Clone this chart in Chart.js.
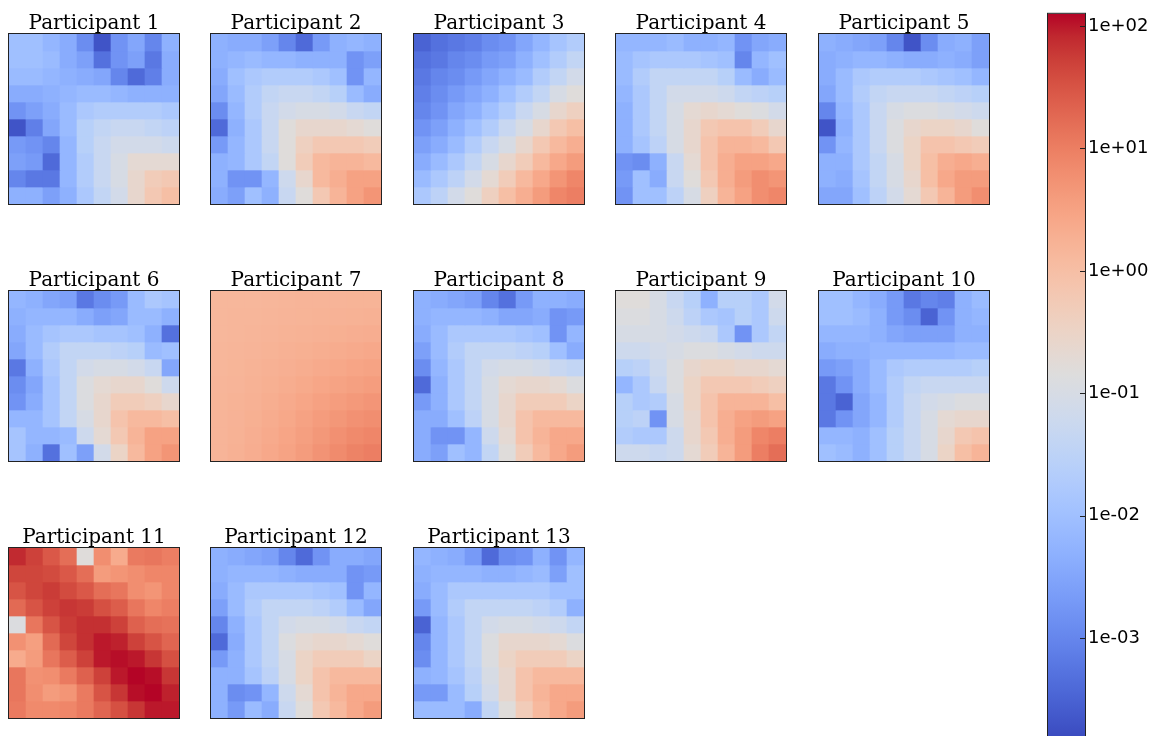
<!DOCTYPE html>
<html lang="en">
<head>
<meta charset="UTF-8" />
<title>Participant heatmaps</title>
<script src="https://cdn.jsdelivr.net/npm/chart.js"></script>
<style>
    body {
        margin: 0;
        background: #fff;
        width: 1154px;
        height: 736px;
        overflow: hidden;
        position: relative;
    }
    canvas {
        position: absolute;
    }
</style>
</head>
<body>
<canvas id="cbar" width="107" height="760" style="left:1047px;top:0px"></canvas>
<script>
    // values are stored as log10 of each cell (row by row, top to bottom)
    const titles = ['Participant 1', 'Participant 2', 'Participant 3', 'Participant 4', 'Participant 5',
        'Participant 6', 'Participant 7', 'Participant 8', 'Participant 9', 'Participant 10',
        'Participant 11', 'Participant 12', 'Participant 13'];

    const p01 = [
        [-2.0, -2.0, -2.2, -2.4, -2.9, -3.7, -2.8, -2.5, -3.0, -2.3],
        [-2.0, -2.0, -2.1, -2.4, -2.6, -3.3, -2.8, -2.6, -3.2, -2.4],
        [-2.1, -2.1, -2.2, -2.3, -2.4, -2.5, -3.0, -3.4, -3.1, -2.4],
        [-2.4, -2.4, -2.3, -2.2, -2.1, -2.1, -2.2, -2.3, -2.3, -2.3],
        [-2.8, -2.6, -2.4, -2.1, -1.8, -1.7, -1.7, -1.7, -1.7, -1.8],
        [-3.7, -3.1, -2.5, -2.1, -1.6, -1.4, -1.3, -1.3, -1.4, -1.5],
        [-2.7, -2.8, -3.0, -2.2, -1.6, -1.3, -1.1, -1.1, -1.1, -1.2],
        [-2.6, -2.7, -3.4, -2.2, -1.7, -1.3, -1.0, -0.7, -0.7, -0.7],
        [-3.0, -3.2, -3.2, -2.2, -1.7, -1.3, -1.0, -0.6, -0.3, -0.2],
        [-2.3, -2.3, -2.6, -2.3, -1.8, -1.4, -1.1, -0.6, -0.2, 0.0]
    ];
    const p02 = [
        [-2.3, -2.4, -2.4, -2.6, -3.0, -3.4, -2.7, -2.3, -2.2, -2.3],
        [-2.3, -2.2, -2.1, -2.2, -2.2, -2.3, -2.3, -2.3, -2.8, -2.6],
        [-2.4, -2.0, -1.8, -1.7, -1.7, -1.7, -1.8, -2.0, -2.8, -2.2],
        [-2.5, -2.1, -1.7, -1.4, -1.3, -1.3, -1.4, -1.6, -2.1, -2.4],
        [-2.9, -2.2, -1.7, -1.3, -1.1, -1.0, -1.0, -1.1, -1.3, -1.4],
        [-3.4, -2.3, -1.8, -1.3, -0.8, -0.6, -0.6, -0.6, -0.7, -0.8],
        [-2.7, -2.2, -1.8, -1.3, -0.8, -0.4, -0.2, -0.2, -0.2, -0.3],
        [-2.3, -2.2, -1.8, -1.4, -0.8, -0.3, 0.1, 0.2, 0.2, 0.1],
        [-2.3, -2.8, -2.8, -2.2, -1.2, -0.6, 0.1, 0.3, 0.5, 0.5],
        [-2.4, -2.6, -2.0, -2.3, -1.3, -0.8, -0.2, 0.2, 0.5, 0.7]
    ];
    const p03 = [
        [-3.5, -3.3, -3.2, -3.1, -2.9, -2.8, -2.5, -2.2, -1.9, -1.7],
        [-3.3, -3.2, -3.0, -2.9, -2.7, -2.6, -2.3, -2.0, -1.7, -1.4],
        [-3.2, -3.0, -2.9, -2.7, -2.5, -2.3, -2.1, -1.7, -1.4, -1.1],
        [-3.1, -2.9, -2.7, -2.5, -2.3, -2.0, -1.7, -1.4, -1.0, -0.8],
        [-3.0, -2.8, -2.5, -2.3, -2.0, -1.7, -1.3, -1.0, -0.6, -0.4],
        [-2.8, -2.6, -2.3, -2.0, -1.7, -1.3, -1.0, -0.6, -0.2, 0.0],
        [-2.6, -2.4, -2.1, -1.7, -1.3, -1.0, -0.6, -0.2, 0.1, 0.3],
        [-2.4, -2.1, -1.8, -1.4, -1.0, -0.6, -0.3, 0.1, 0.4, 0.6],
        [-2.1, -1.8, -1.5, -1.1, -0.7, -0.3, 0.1, 0.4, 0.7, 0.9],
        [-1.8, -1.5, -1.1, -0.8, -0.4, 0.0, 0.3, 0.6, 0.9, 1.0]
    ];
    const p04 = [
        [-2.2, -2.2, -2.2, -2.1, -2.3, -2.3, -2.2, -2.8, -2.5, -2.4],
        [-2.1, -1.9, -1.8, -1.8, -1.8, -1.9, -2.0, -3.0, -2.2, -2.0],
        [-2.1, -1.7, -1.4, -1.4, -1.4, -1.4, -1.6, -2.1, -2.4, -2.1],
        [-2.2, -1.8, -1.4, -1.1, -1.1, -1.1, -1.2, -1.4, -1.5, -1.6],
        [-2.3, -1.8, -1.4, -1.0, -0.7, -0.6, -0.7, -0.8, -0.9, -1.1],
        [-2.3, -1.8, -1.4, -1.0, -0.6, -0.2, -0.1, -0.1, -0.3, -0.6],
        [-2.3, -1.9, -1.5, -1.0, -0.6, -0.1, 0.2, 0.2, 0.1, -0.2],
        [-2.8, -2.9, -2.3, -1.3, -0.7, -0.1, 0.3, 0.5, 0.5, 0.4],
        [-2.7, -2.0, -2.4, -1.3, -0.8, -0.2, 0.3, 0.6, 0.8, 0.7],
        [-2.8, -2.0, -2.0, -1.5, -1.0, -0.4, 0.2, 0.5, 0.8, 0.9]
    ];
    const p05 = [
        [-2.3, -2.4, -2.5, -2.6, -3.0, -3.7, -2.9, -2.4, -2.3, -2.6],
        [-2.4, -2.3, -2.2, -2.2, -2.3, -2.4, -2.4, -2.3, -2.4, -2.6],
        [-2.4, -2.1, -1.8, -1.7, -1.7, -1.7, -1.8, -1.9, -2.0, -2.2],
        [-2.5, -2.1, -1.7, -1.4, -1.3, -1.3, -1.3, -1.4, -1.5, -1.6],
        [-3.0, -2.2, -1.8, -1.3, -1.0, -0.9, -0.9, -1.0, -1.1, -1.2],
        [-3.7, -2.3, -1.8, -1.3, -0.9, -0.6, -0.5, -0.5, -0.6, -0.8],
        [-2.8, -2.2, -1.8, -1.3, -0.9, -0.5, -0.1, -0.1, -0.2, -0.3],
        [-2.3, -2.3, -1.8, -1.4, -1.0, -0.5, 0.0, 0.3, 0.4, 0.3],
        [-2.3, -2.4, -1.9, -1.4, -1.0, -0.6, 0.0, 0.4, 0.6, 0.6],
        [-2.5, -2.5, -2.0, -1.5, -1.1, -0.7, -0.2, 0.2, 0.6, 0.8]
    ];
    const p06 = [
        [-2.2, -2.3, -2.5, -2.6, -3.2, -2.9, -2.7, -2.1, -1.8, -1.9],
        [-2.3, -2.2, -2.2, -2.2, -2.4, -2.6, -2.5, -2.1, -2.1, -2.3],
        [-2.4, -2.1, -1.9, -1.8, -1.8, -1.9, -1.9, -2.0, -2.3, -3.3],
        [-2.5, -2.1, -1.7, -1.4, -1.4, -1.4, -1.5, -1.6, -2.1, -2.0],
        [-3.2, -2.3, -1.8, -1.4, -1.1, -1.0, -1.0, -1.1, -1.3, -2.5],
        [-2.9, -2.5, -1.9, -1.4, -0.9, -0.7, -0.6, -0.6, -0.8, -1.2],
        [-2.8, -2.4, -1.9, -1.4, -0.9, -0.6, -0.3, -0.3, -0.4, -0.6],
        [-2.2, -2.2, -1.9, -1.4, -1.0, -0.6, -0.1, 0.1, 0.1, 0.0],
        [-1.9, -2.2, -2.2, -2.1, -1.2, -0.7, -0.2, 0.2, 0.5, 0.5],
        [-1.9, -2.3, -3.3, -2.0, -2.6, -1.1, -0.5, 0.1, 0.5, 0.7]
    ];
    const p07 = [
        [0.15, 0.15, 0.15, 0.17, 0.18, 0.20, 0.20, 0.20, 0.21, 0.21],
        [0.15, 0.16, 0.17, 0.18, 0.20, 0.21, 0.22, 0.23, 0.24, 0.25],
        [0.15, 0.17, 0.18, 0.20, 0.22, 0.24, 0.26, 0.28, 0.30, 0.32],
        [0.16, 0.18, 0.20, 0.22, 0.25, 0.28, 0.31, 0.34, 0.37, 0.40],
        [0.17, 0.19, 0.22, 0.25, 0.29, 0.33, 0.37, 0.41, 0.45, 0.48],
        [0.18, 0.20, 0.24, 0.28, 0.33, 0.38, 0.44, 0.49, 0.54, 0.58],
        [0.19, 0.22, 0.26, 0.31, 0.37, 0.44, 0.51, 0.58, 0.64, 0.69],
        [0.20, 0.23, 0.28, 0.34, 0.41, 0.50, 0.59, 0.67, 0.75, 0.80],
        [0.20, 0.24, 0.30, 0.37, 0.45, 0.55, 0.66, 0.76, 0.85, 0.90],
        [0.20, 0.25, 0.32, 0.40, 0.49, 0.60, 0.72, 0.84, 0.94, 1.00]
    ];
    const p08 = [
        [-2.3, -2.4, -2.5, -2.6, -3.0, -3.3, -2.7, -2.3, -2.3, -2.4],
        [-2.3, -2.2, -2.2, -2.2, -2.3, -2.5, -2.5, -2.4, -2.8, -2.7],
        [-2.4, -2.1, -1.8, -1.8, -1.8, -1.8, -1.9, -2.0, -2.8, -2.2],
        [-2.6, -2.1, -1.7, -1.4, -1.4, -1.4, -1.5, -1.6, -2.0, -2.4],
        [-2.9, -2.2, -1.8, -1.4, -1.1, -1.0, -1.0, -1.1, -1.3, -1.4],
        [-3.4, -2.3, -1.8, -1.4, -1.0, -0.7, -0.6, -0.6, -0.7, -0.9],
        [-2.7, -2.3, -1.8, -1.4, -1.0, -0.6, -0.3, -0.3, -0.3, -0.5],
        [-2.4, -2.4, -2.0, -1.5, -1.0, -0.6, -0.1, 0.1, 0.1, 0.1],
        [-2.4, -2.8, -2.8, -2.2, -1.2, -0.7, -0.1, 0.2, 0.4, 0.4],
        [-2.4, -2.6, -2.0, -2.2, -1.4, -0.8, -0.3, 0.1, 0.4, 0.6]
    ];
    const p09 = [
        [-0.8, -0.8, -1.0, -1.3, -1.6, -2.3, -1.6, -1.6, -1.8, -1.1],
        [-0.9, -0.9, -1.0, -1.2, -1.5, -1.8, -1.9, -1.6, -1.8, -1.2],
        [-1.0, -1.0, -1.0, -1.1, -1.2, -1.3, -1.8, -2.8, -1.8, -1.4],
        [-1.2, -1.2, -1.1, -1.0, -0.9, -0.9, -1.0, -1.1, -1.2, -1.2],
        [-1.6, -1.5, -1.2, -0.9, -0.6, -0.5, -0.5, -0.6, -0.6, -0.7],
        [-2.2, -1.8, -1.3, -0.9, -0.5, -0.2, -0.2, -0.2, -0.3, -0.4],
        [-1.6, -1.8, -1.7, -1.0, -0.5, -0.1, 0.2, 0.2, 0.2, 0.0],
        [-1.6, -1.5, -2.8, -1.0, -0.6, -0.1, 0.3, 0.5, 0.6, 0.5],
        [-1.7, -1.8, -1.8, -1.2, -0.6, -0.2, 0.3, 0.6, 0.9, 1.0],
        [-1.2, -1.2, -1.3, -1.2, -0.7, -0.3, 0.2, 0.6, 1.0, 1.2]
    ];
    const p10 = [
        [-2.0, -2.0, -2.2, -2.4, -2.7, -3.2, -3.0, -3.1, -2.3, -2.1],
        [-2.0, -2.0, -2.1, -2.3, -2.7, -2.9, -3.5, -2.8, -2.3, -2.2],
        [-2.2, -2.2, -2.2, -2.3, -2.5, -2.6, -2.6, -2.6, -2.3, -2.3],
        [-2.4, -2.3, -2.3, -2.2, -2.2, -2.2, -2.2, -2.2, -2.1, -2.1],
        [-2.7, -2.6, -2.4, -2.1, -1.8, -1.7, -1.7, -1.7, -1.7, -1.6],
        [-3.2, -2.8, -2.4, -2.1, -1.7, -1.4, -1.3, -1.3, -1.3, -1.3],
        [-3.2, -3.5, -2.5, -2.2, -1.7, -1.3, -1.1, -1.0, -0.9, -0.9],
        [-3.2, -2.8, -2.5, -2.2, -1.7, -1.3, -1.0, -0.7, -0.6, -0.6],
        [-2.2, -2.2, -2.3, -2.0, -1.6, -1.3, -1.0, -0.6, -0.2, -0.1],
        [-2.0, -2.1, -2.3, -2.0, -1.6, -1.3, -1.0, -0.5, 0.0, 0.2]
    ];
    const p11 = [
        [1.90, 1.70, 1.45, 1.20, -0.80, 0.80, 0.35, 1.05, 1.10, 1.00],
        [1.65, 1.65, 1.60, 1.45, 1.20, 0.60, 0.70, 0.80, 0.90, 0.90],
        [1.50, 1.65, 1.75, 1.60, 1.45, 1.20, 1.10, 0.80, 0.70, 0.90],
        [1.25, 1.50, 1.70, 1.80, 1.75, 1.55, 1.40, 1.10, 0.90, 1.00],
        [-0.90, 1.10, 1.50, 1.75, 1.85, 1.85, 1.70, 1.35, 1.20, 1.15],
        [0.75, 0.55, 1.25, 1.65, 1.85, 2.00, 1.95, 1.70, 1.50, 1.30],
        [0.35, 0.60, 1.10, 1.40, 1.70, 2.00, 2.05, 2.00, 1.80, 1.55],
        [1.10, 0.75, 0.80, 1.05, 1.35, 1.70, 2.00, 2.10, 2.05, 1.80],
        [1.10, 0.80, 0.60, 0.70, 1.05, 1.50, 1.80, 2.05, 2.10, 1.95],
        [1.05, 0.85, 0.85, 0.90, 1.05, 1.30, 1.55, 1.80, 2.00, 2.00]
    ];
    const p12 = [
        [-2.3, -2.4, -2.5, -2.6, -3.0, -3.4, -2.8, -2.4, -2.4, -2.5],
        [-2.3, -2.2, -2.2, -2.2, -2.3, -2.4, -2.4, -2.4, -2.8, -2.7],
        [-2.4, -2.1, -1.8, -1.8, -1.8, -1.8, -1.9, -2.0, -2.8, -2.2],
        [-2.6, -2.1, -1.7, -1.4, -1.4, -1.4, -1.5, -1.7, -2.1, -2.5],
        [-3.0, -2.3, -1.8, -1.4, -1.1, -1.0, -1.0, -1.1, -1.3, -1.4],
        [-3.4, -2.4, -1.8, -1.4, -0.9, -0.7, -0.6, -0.6, -0.7, -0.8],
        [-2.7, -2.3, -1.8, -1.4, -1.0, -0.5, -0.3, -0.3, -0.3, -0.5],
        [-2.3, -2.3, -1.9, -1.5, -1.0, -0.5, -0.1, 0.1, 0.1, 0.1],
        [-2.3, -2.9, -2.8, -2.2, -1.2, -0.7, -0.1, 0.2, 0.4, 0.4],
        [-2.3, -2.7, -2.1, -2.4, -1.3, -0.8, -0.2, 0.1, 0.4, 0.6]
    ];
    const p13 = [
        [-2.2, -2.3, -2.4, -2.7, -3.4, -2.9, -2.8, -2.3, -2.8, -2.2],
        [-2.3, -2.2, -2.2, -2.2, -2.3, -2.3, -2.2, -2.1, -2.6, -2.0],
        [-2.4, -2.1, -1.8, -1.8, -1.8, -1.8, -1.8, -1.8, -2.0, -2.0],
        [-2.7, -2.1, -1.7, -1.4, -1.4, -1.4, -1.4, -1.5, -1.7, -2.3],
        [-3.5, -2.2, -1.8, -1.4, -1.1, -1.0, -1.0, -1.1, -1.2, -1.4],
        [-3.0, -2.2, -1.8, -1.4, -0.9, -0.6, -0.6, -0.6, -0.7, -0.9],
        [-2.9, -2.2, -1.8, -1.4, -0.9, -0.5, -0.3, -0.3, -0.3, -0.5],
        [-2.3, -2.2, -1.9, -1.5, -1.0, -0.6, -0.1, 0.1, 0.1, 0.1],
        [-2.7, -2.7, -2.1, -1.6, -1.1, -0.6, -0.1, 0.2, 0.4, 0.4],
        [-2.1, -2.1, -2.1, -2.4, -1.4, -0.8, -0.3, 0.1, 0.4, 0.6]
    ];
    const grids = [p01, p02, p03, p04, p05, p06, p07, p08, p09, p10, p11, p12, p13];

    // colour norm limits (log10) and colourbar ticks
    const logMin = -3.8;
    const logMax = 2.1;
    const cbarTicks = [1e-3, 1e-2, 1e-1, 1, 10, 100];

    // matplotlib coolwarm, 33 samples
    const coolwarm = [
        [59, 76, 192], [68, 90, 204], [77, 104, 215], [87, 117, 225], [98, 130, 234],
        [108, 142, 241], [119, 154, 247], [130, 165, 251], [141, 176, 254], [152, 185, 255],
        [163, 194, 255], [174, 201, 253], [184, 208, 249], [194, 213, 244], [204, 217, 238],
        [213, 219, 230], [221, 221, 221], [229, 216, 209], [236, 211, 197], [241, 204, 185],
        [245, 196, 173], [247, 187, 160], [247, 177, 148], [247, 166, 135], [244, 154, 123],
        [241, 141, 111], [236, 127, 99], [229, 112, 88], [222, 96, 77], [213, 80, 66],
        [203, 62, 56], [192, 40, 47], [180, 4, 38]
    ];

    function colorFor(value) {
        let t = (Math.log10(value) - logMin) / (logMax - logMin);
        t = Math.min(1, Math.max(0, t)) * (coolwarm.length - 1);
        const i = Math.min(coolwarm.length - 2, Math.floor(t));
        const f = t - i;
        const a = coolwarm[i], b = coolwarm[i + 1];
        const c = a.map((v, k) => Math.round(v + (b[k] - v) * f));
        return `rgb(${c[0]},${c[1]},${c[2]})`;
    }

    const framePlugin = {
        id: 'frame',
        afterDatasetsDraw(chart) {
            const { ctx, chartArea: a } = chart;
            ctx.save();
            ctx.strokeStyle = '#222';
            ctx.lineWidth = 1;
            ctx.strokeRect(a.left - 0.5, a.top - 0.5, a.width + 1, a.height + 1);
            ctx.restore();
        }
    };

    const colLefts = [9, 211, 414, 616, 819];
    const rowTops = [34, 291, 548];
    const cols = [0, 1, 2, 3, 4, 5, 6, 7, 8, 9];
    const titleBox = 24; // title line (20) + padding (4)

    grids.forEach((grid, n) => {
        const canvas = document.createElement('canvas');
        canvas.width = 172;
        canvas.height = titleBox + 171;
        canvas.style.left = (colLefts[n % 5] - 1) + 'px';
        canvas.style.top = (rowTops[Math.floor(n / 5)] - titleBox) + 'px';
        document.body.appendChild(canvas);

        const values = grid.map(row => row.map(e => Math.pow(10, e)));
        new Chart(canvas, {
            type: 'bar',
            data: {
                labels: cols,
                datasets: values.map((row, r) => ({
                    data: row.map(() => [r, r + 1]),
                    backgroundColor: row.map(colorFor),
                    borderWidth: 0,
                    barPercentage: 1,
                    categoryPercentage: 1
                }))
            },
            options: {
                responsive: false,
                animation: false,
                devicePixelRatio: 1,
                grouped: false,
                layout: { padding: { left: 1, right: 1, top: 0, bottom: 1 } },
                plugins: {
                    legend: { display: false },
                    tooltip: { enabled: false },
                    title: {
                        display: true,
                        text: titles[n],
                        color: '#000',
                        font: { family: 'DejaVu Serif', size: 20, weight: 'normal', lineHeight: 1 },
                        padding: { top: 4, bottom: 0 }
                    }
                },
                scales: {
                    x: { display: false },
                    y: { display: false, min: 0, max: 10, reverse: true }
                }
            },
            plugins: [framePlugin]
        });
    });

    // colour bar
    const isDecade = v => Math.abs(Math.log10(v) - Math.round(Math.log10(v))) < 1e-6;
    const fmt = v => v.toExponential(0).replace(/e([+-])(\d)$/, 'e$10$2');

    const cbarTickPlugin = {
        id: 'cbarTicks',
        afterDraw(chart) {
            const { ctx, chartArea: a } = chart;
            const scale = chart.scales.y;
            ctx.save();
            ctx.strokeStyle = '#222';
            ctx.lineWidth = 1;
            cbarTicks.forEach(v => {
                const y = Math.round(scale.getPixelForValue(v)) + 0.5;
                ctx.beginPath();
                ctx.moveTo(a.right - 5, y);
                ctx.lineTo(a.right, y);
                ctx.stroke();
            });
            ctx.restore();
        }
    };

    new Chart(document.getElementById('cbar'), {
        type: 'bar',
        data: {
            labels: [''],
            datasets: [{
                data: [[Math.pow(10, logMin), Math.pow(10, logMax)]],
                borderWidth: 0,
                barPercentage: 1,
                categoryPercentage: 1,
                backgroundColor: (c) => {
                    const a = c.chart.chartArea;
                    if (!a) return null;
                    const g = c.chart.ctx.createLinearGradient(0, a.bottom, 0, a.top);
                    coolwarm.forEach((rgb, i) => g.addColorStop(i / (coolwarm.length - 1), `rgb(${rgb.join(',')})`));
                    return g;
                }
            }]
        },
        options: {
            responsive: false,
            animation: false,
            devicePixelRatio: 1,
            layout: { padding: { left: 1, right: 0, top: 12, bottom: 24 } },
            plugins: { legend: { display: false }, tooltip: { enabled: false } },
            scales: {
                x: { display: false },
                y: {
                    type: 'logarithmic',
                    position: 'right',
                    min: Math.pow(10, logMin),
                    max: Math.pow(10, logMax),
                    grid: { display: false, drawTicks: false },
                    border: { display: false },
                    afterFit: (s) => { s.width = 69; },
                    ticks: {
                        autoSkip: false,
                        padding: 3,
                        color: '#000',
                        font: { family: 'DejaVu Sans', size: 18 },
                        callback: (v) => isDecade(v) && v > 5e-4 ? fmt(v) : null
                    }
                }
            }
        },
        plugins: [framePlugin, cbarTickPlugin]
    });
</script>
</body>
</html>
